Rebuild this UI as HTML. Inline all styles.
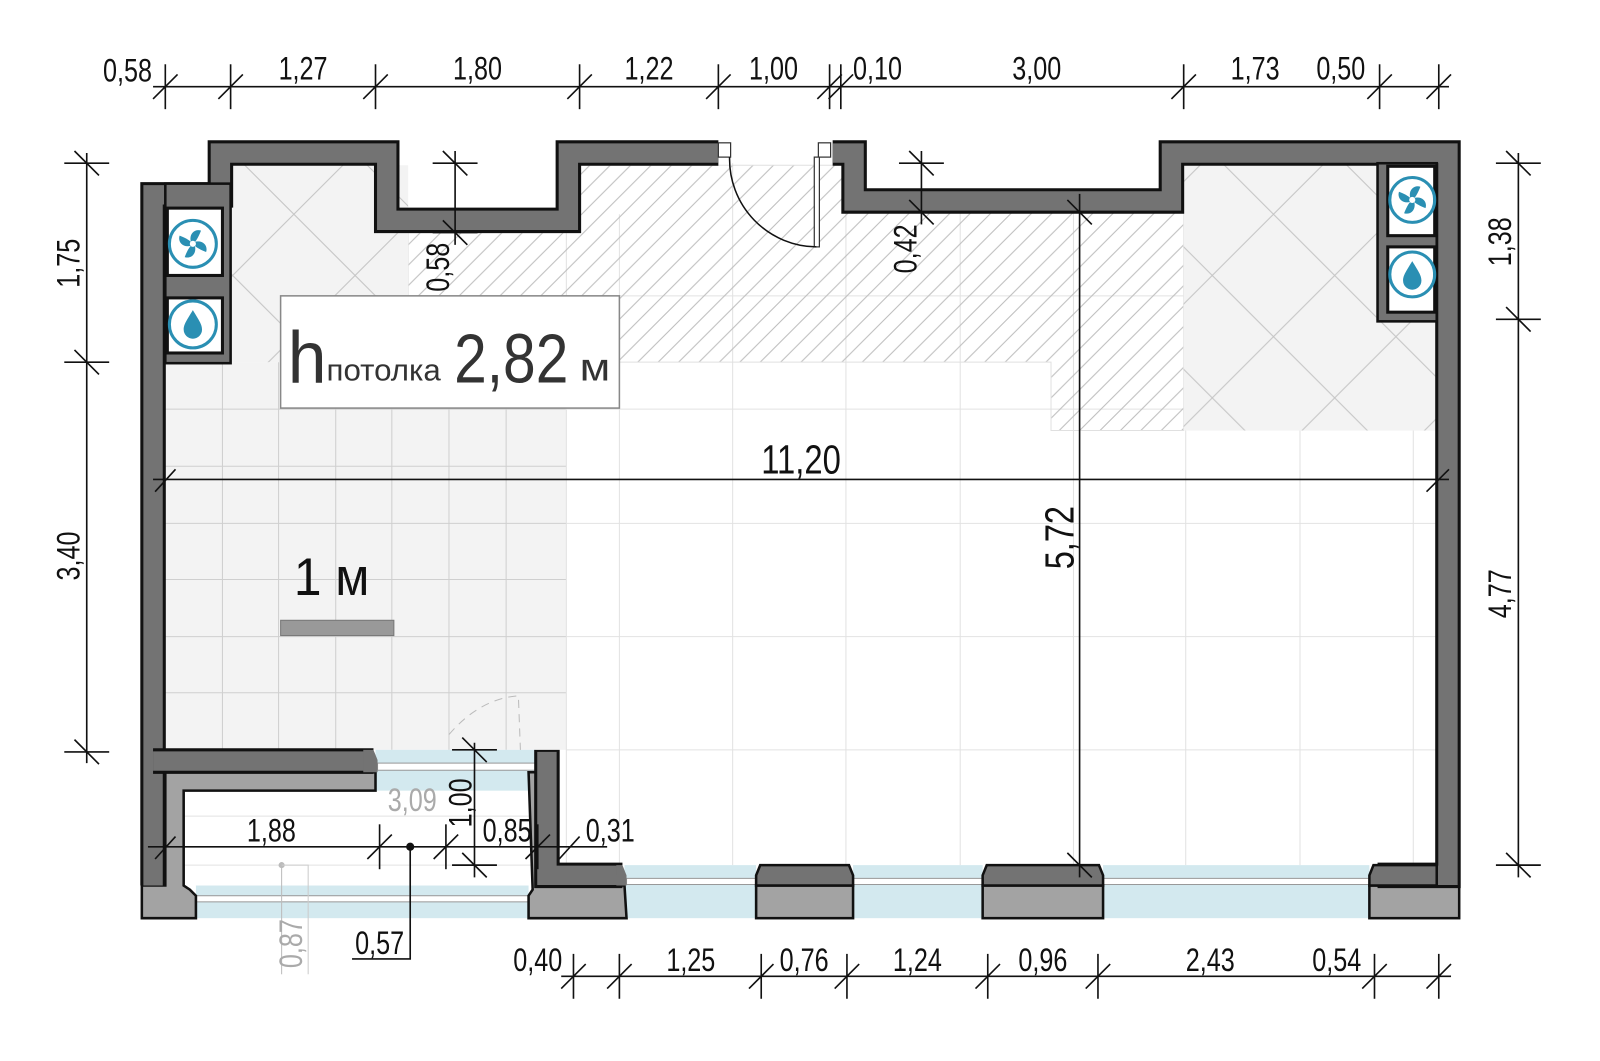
<!DOCTYPE html>
<html><head><meta charset="utf-8"><style>
html,body{margin:0;padding:0;background:#fff;width:1600px;height:1061px;overflow:hidden}
svg{display:block}
text{font-family:"Liberation Sans",sans-serif}
.d{font-size:32px;fill:#111}
</style></head><body>
<svg width="1600" height="1061" viewBox="0 0 1568 1040" preserveAspectRatio="none" xmlns="http://www.w3.org/2000/svg">
<defs>
<pattern id="hatch" width="20" height="20" patternUnits="userSpaceOnUse">
<path d="M-5,5 L5,-5 M0,20 L20,0 M15,25 L25,15" stroke="#bdbdbd" stroke-width="1"/>
</pattern>
<pattern id="cross" width="120" height="120" patternUnits="userSpaceOnUse" x="228" y="150">
<rect width="120" height="120" fill="#f3f3f3"/>
<path d="M0,0 L120,120 M120,0 L0,120 M-60,60 L60,-60 M60,180 L180,60 M-60,60 L60,180 M60,-60 L180,60" stroke="#c4c4c4" stroke-width="1" fill="none"/>
</pattern>
<g id="tkh"><line x1="0" y1="-22" x2="0" y2="22" stroke="#111" stroke-width="1.6"/><line x1="-12" y1="12" x2="12" y2="-12" stroke="#111" stroke-width="1.6"/></g>
<g id="tkv"><line x1="-22" y1="0" x2="22" y2="0" stroke="#111" stroke-width="1.6"/><line x1="-12" y1="-12" x2="12" y2="12" stroke="#111" stroke-width="1.6"/></g>
</defs>

<!-- floor -->
<rect x="150" y="150" width="1270" height="710" fill="#fff"/>
<rect x="162" y="355" width="393" height="380" fill="#f3f3f3"/>
<rect x="162" y="757" width="360" height="111" fill="#fff"/>
<!-- left area grid -->
<g stroke="#cfcfcf" stroke-width="1">
<line x1="218" y1="355" x2="218" y2="735"/><line x1="273" y1="355" x2="273" y2="735"/><line x1="329" y1="355" x2="329" y2="735"/><line x1="384" y1="355" x2="384" y2="735"/><line x1="440" y1="355" x2="440" y2="735"/><line x1="496" y1="355" x2="496" y2="735"/>
<line x1="162" y1="401" x2="555" y2="401"/><line x1="162" y1="457" x2="555" y2="457"/><line x1="162" y1="513" x2="555" y2="513"/><line x1="162" y1="568" x2="555" y2="568"/><line x1="162" y1="624" x2="555" y2="624"/><line x1="162" y1="679" x2="555" y2="679"/>
</g>
<!-- main grid -->
<g stroke="#e2e2e2" stroke-width="1">
<line x1="555" y1="160" x2="555" y2="848"/><line x1="607" y1="210" x2="607" y2="848"/><line x1="718" y1="160" x2="718" y2="848"/><line x1="829" y1="208" x2="829" y2="848"/><line x1="941" y1="208" x2="941" y2="848"/><line x1="1052" y1="208" x2="1052" y2="848"/><line x1="1162" y1="160" x2="1162" y2="848"/><line x1="1274" y1="160" x2="1274" y2="848"/><line x1="1385" y1="315" x2="1385" y2="848"/>
<line x1="400" y1="290" x2="1408" y2="290"/><line x1="555" y1="401" x2="1408" y2="401"/><line x1="555" y1="513" x2="1408" y2="513"/><line x1="555" y1="624" x2="1408" y2="624"/><line x1="555" y1="735" x2="1408" y2="735"/>
<line x1="180" y1="800" x2="520" y2="800"/><line x1="180" y1="848" x2="520" y2="848"/>
</g>
<!-- hatch -->
<path d="M400,228 L568,228 L568,162 L826,162 L826,208 L1160,208 L1160,422 L1030,422 L1030,355 L400,355 Z" fill="url(#hatch)"/>
<path d="M400,228 L568,228 L568,162 L826,162 L826,208 L1160,208 L1160,422 L1030,422 L1030,355 L400,355 Z" fill="none" stroke="#e0e0e0" stroke-width="1"/>
<rect x="226" y="162" width="174" height="193" fill="url(#cross)"/>
<rect x="1160" y="162" width="248" height="260" fill="url(#cross)"/>

<!-- windows -->
<g fill="#d3e9ef">
<rect x="368" y="735" width="157" height="40"/>
<rect x="192" y="868" width="326" height="32"/>
<rect x="612" y="848" width="129" height="52"/>
<rect x="836" y="848" width="127" height="52"/>
<rect x="1081" y="848" width="261" height="52"/>
</g>
<g fill="#fff" stroke="#999" stroke-width="1">
<rect x="370" y="748" width="155" height="7"/>
<rect x="192" y="878" width="326" height="6"/>
<rect x="614" y="861" width="127" height="6"/>
<rect x="836" y="861" width="127" height="6"/>
<rect x="1081" y="861" width="261" height="6"/>
</g>

<!-- light gray wall parts -->
<g fill="#a3a3a3" stroke="#111" stroke-width="2.5">
<path d="M162,757 L368,757 L368,775 L180,775 L180,868 L186,872 L192,878 L192,900 L139,900 L139,868 L162,868 Z"/>
<path d="M518,757 L525,757 L525,868 L612,868 L614,900 L518,900 L518,878 L522,872 Z"/>
<rect x="741" y="868" width="95" height="32"/>
<rect x="963" y="868" width="118" height="32"/>
<rect x="1342" y="868" width="88" height="32"/>
</g>

<!-- dark walls -->
<g fill="none" stroke-linejoin="miter" stroke-linecap="butt">
<polyline points="150,868 150,191 216,191 216,150 379,150 379,216 557,216 557,150 704,150" stroke="#111" stroke-width="25"/>
<polyline points="150,868 150,191 216,191 216,150 379,150 379,216 557,216 557,150 704,150" stroke="#737373" stroke-width="19"/>
<polyline points="816,150 837,150 837,197 1148,197 1148,150 1419,150 1419,858 1350,858" stroke="#111" stroke-width="25"/>
<polyline points="816,150 837,150 837,197 1148,197 1148,150 1419,150 1419,858 1350,858" stroke="#737373" stroke-width="19"/>
<polyline points="150,746 366,746" stroke="#111" stroke-width="25"/>
<polyline points="150,746 364,746" stroke="#737373" stroke-width="19"/>
<polyline points="536,735 536,858 610,858" stroke="#111" stroke-width="25"/>
<polyline points="536,737 536,858 608,858" stroke="#737373" stroke-width="19"/>
</g>
<g fill="#737373" stroke="#111" stroke-width="2.5">
<path d="M356,735 L366,735 L370,745 L370,757 L356,757 Z" stroke="none"/>
<path d="M741,868 L741,858 L745,848 L832,848 L836,858 L836,868 Z"/>
<path d="M963,868 L963,858 L967,848 L1077,848 L1081,858 L1081,868 Z"/>
<path d="M1342,868 L1342,858 L1346,848 L1408,848 L1408,868 Z"/>
<path d="M604,848 L610,848 L614,858 L614,868 L604,868 Z" stroke="none"/>
<rect x="162" y="180" width="64" height="176"/>
<rect x="1350" y="160" width="58" height="155"/>
</g>
<!-- door jambs & door -->
<g fill="#fff" stroke="#333" stroke-width="1.2">
<rect x="704" y="140" width="12" height="14"/>
<rect x="802" y="140" width="12" height="14"/>
<rect x="798" y="154" width="5" height="88"/>
</g>
<path d="M715,154 A86,86 0 0 0 800,242" fill="none" stroke="#111" stroke-width="1.5"/>

<!-- service boxes -->
<g fill="#fff" stroke="#111" stroke-width="3">
<rect x="164" y="204" width="54" height="66"/>
<rect x="164" y="292" width="54" height="54"/>
<rect x="1360" y="163" width="46" height="68"/>
<rect x="1360" y="242" width="46" height="64"/>
</g>
<g fill="none" stroke="#2a8fb3" stroke-width="3">
<circle cx="189" cy="239" r="23"/><circle cx="189" cy="318" r="23"/>
<circle cx="1384" cy="196" r="22"/><circle cx="1384" cy="269" r="22"/>
</g>
<g fill="#2a8fb3">
<g transform="translate(189,239)"><path d="M-2,-2 C-4,-10 2,-15 8,-13 C6,-8 4,-4 2,-2 Z M2,-2 C10,-4 15,2 13,8 C8,6 4,4 2,2 Z M2,2 C4,10 -2,15 -8,13 C-6,8 -4,4 -2,2 Z M-2,2 C-10,4 -15,-2 -13,-8 C-8,-6 -4,-4 -2,-2 Z"/><circle r="3" fill="#fff"/></g>
<g transform="translate(1384,196)"><path d="M-2,-2 C-4,-10 2,-15 8,-13 C6,-8 4,-4 2,-2 Z M2,-2 C10,-4 15,2 13,8 C8,6 4,4 2,2 Z M2,2 C4,10 -2,15 -8,13 C-6,8 -4,4 -2,2 Z M-2,2 C-10,4 -15,-2 -13,-8 C-8,-6 -4,-4 -2,-2 Z"/><circle r="3" fill="#fff"/></g>
<path d="M189,304 C183,314 180,318 180,323 A9,9 0 0 0 198,323 C198,318 195,314 189,304 Z"/>
<path d="M1384,256 C1378,266 1375,270 1375,275 A9,9 0 0 0 1393,275 C1393,270 1390,266 1384,256 Z"/>
</g>

<!-- ceiling height label -->
<rect x="275" y="290" width="332" height="110" fill="#fff" stroke="#888" stroke-width="1.5"/>
<text x="282" y="375" font-size="72" fill="#333" textLength="38" lengthAdjust="spacingAndGlyphs">h</text>
<text x="320" y="373" font-size="30" fill="#333" textLength="112" lengthAdjust="spacingAndGlyphs">потолка</text>
<text x="445" y="375" font-size="68" fill="#333" textLength="112" lengthAdjust="spacingAndGlyphs">2,82</text>
<text x="568" y="373" font-size="38" fill="#333" textLength="30" lengthAdjust="spacingAndGlyphs">м</text>
<text x="288" y="583" font-size="52" fill="#111" textLength="74" lengthAdjust="spacingAndGlyphs">1 м</text>
<rect x="275" y="608" width="111" height="15" fill="#999" stroke="#777" stroke-width="1"/>

<!-- top dims -->
<line x1="150" y1="85" x2="1420" y2="85" stroke="#111" stroke-width="1.6"/>
<use href="#tkh" x="162" y="85"/><use href="#tkh" x="226" y="85"/><use href="#tkh" x="368" y="85"/><use href="#tkh" x="568" y="85"/><use href="#tkh" x="704" y="85"/><use href="#tkh" x="813" y="85"/><use href="#tkh" x="824" y="85"/><use href="#tkh" x="1160" y="85"/><use href="#tkh" x="1352" y="85"/><use href="#tkh" x="1410" y="85"/>
<g class="d" text-anchor="middle">
<text x="125" y="80" textLength="48" lengthAdjust="spacingAndGlyphs">0,58</text>
<text x="297" y="78" textLength="48" lengthAdjust="spacingAndGlyphs">1,27</text>
<text x="468" y="78" textLength="48" lengthAdjust="spacingAndGlyphs">1,80</text>
<text x="636" y="78" textLength="48" lengthAdjust="spacingAndGlyphs">1,22</text>
<text x="758" y="78" textLength="48" lengthAdjust="spacingAndGlyphs">1,00</text>
<text x="860" y="78" textLength="48" lengthAdjust="spacingAndGlyphs">0,10</text>
<text x="1016" y="78" textLength="48" lengthAdjust="spacingAndGlyphs">3,00</text>
<text x="1230" y="78" textLength="48" lengthAdjust="spacingAndGlyphs">1,73</text>
<text x="1314" y="78" textLength="48" lengthAdjust="spacingAndGlyphs">0,50</text>
</g>

<!-- bottom dims -->
<line x1="550" y1="957" x2="1422" y2="957" stroke="#111" stroke-width="1.6"/>
<use href="#tkh" x="562" y="957"/><use href="#tkh" x="607" y="957"/><use href="#tkh" x="746" y="957"/><use href="#tkh" x="830" y="957"/><use href="#tkh" x="968" y="957"/><use href="#tkh" x="1076" y="957"/><use href="#tkh" x="1347" y="957"/><use href="#tkh" x="1410" y="957"/>
<g class="d" text-anchor="middle">
<text x="527" y="952" textLength="48" lengthAdjust="spacingAndGlyphs">0,40</text>
<text x="677" y="952" textLength="48" lengthAdjust="spacingAndGlyphs">1,25</text>
<text x="788" y="952" textLength="48" lengthAdjust="spacingAndGlyphs">0,76</text>
<text x="899" y="952" textLength="48" lengthAdjust="spacingAndGlyphs">1,24</text>
<text x="1022" y="952" textLength="48" lengthAdjust="spacingAndGlyphs">0,96</text>
<text x="1186" y="952" textLength="48" lengthAdjust="spacingAndGlyphs">2,43</text>
<text x="1310" y="952" textLength="48" lengthAdjust="spacingAndGlyphs">0,54</text>
</g>

<!-- left dims -->
<line x1="85" y1="150" x2="85" y2="748" stroke="#111" stroke-width="1.6"/>
<use href="#tkv" x="85" y="160"/><use href="#tkv" x="85" y="355"/><use href="#tkv" x="85" y="737"/>
<text class="d" text-anchor="middle" transform="translate(78,258) rotate(-90)" textLength="48" lengthAdjust="spacingAndGlyphs">1,75</text>
<text class="d" text-anchor="middle" transform="translate(78,545) rotate(-90)" textLength="48" lengthAdjust="spacingAndGlyphs">3,40</text>

<!-- right dims -->
<line x1="1488" y1="150" x2="1488" y2="860" stroke="#111" stroke-width="1.6"/>
<use href="#tkv" x="1488" y="160"/><use href="#tkv" x="1488" y="313"/><use href="#tkv" x="1488" y="848"/>
<text class="d" text-anchor="middle" transform="translate(1481,237) rotate(-90)" textLength="48" lengthAdjust="spacingAndGlyphs">1,38</text>
<text class="d" text-anchor="middle" transform="translate(1481,582) rotate(-90)" textLength="48" lengthAdjust="spacingAndGlyphs">4,77</text>

<!-- inner dims -->
<line x1="150" y1="470" x2="1420" y2="470" stroke="#111" stroke-width="1.6"/>
<line x1="152" y1="482" x2="172" y2="460" stroke="#111" stroke-width="1.6"/>
<line x1="1398" y1="482" x2="1420" y2="460" stroke="#111" stroke-width="1.6"/>
<text x="785" y="464" font-size="40" fill="#111" text-anchor="middle" textLength="78" lengthAdjust="spacingAndGlyphs">11,20</text>
<line x1="1058" y1="190" x2="1058" y2="860" stroke="#111" stroke-width="1.6"/>
<line x1="1046" y1="196" x2="1070" y2="220" stroke="#111" stroke-width="1.6"/>
<line x1="1046" y1="836" x2="1070" y2="860" stroke="#111" stroke-width="1.6"/>
<text transform="translate(1052,527) rotate(-90)" font-size="40" fill="#111" text-anchor="middle" textLength="62" lengthAdjust="spacingAndGlyphs">5,72</text>

<line x1="446" y1="148" x2="446" y2="240" stroke="#111" stroke-width="1.6"/>
<use href="#tkv" x="446" y="160"/><use href="#tkv" x="446" y="228"/>
<text class="d" text-anchor="middle" transform="translate(440,262) rotate(-90)" textLength="48" lengthAdjust="spacingAndGlyphs">0,58</text>
<line x1="903" y1="148" x2="903" y2="220" stroke="#111" stroke-width="1.6"/>
<use href="#tkv" x="903" y="160"/><use href="#tkv" x="903" y="208"/>
<text class="d" text-anchor="middle" transform="translate(898,244) rotate(-90)" textLength="48" lengthAdjust="spacingAndGlyphs">0,42</text>

<!-- vestibule dims -->
<line x1="145" y1="830" x2="595" y2="830" stroke="#111" stroke-width="1.6"/>
<line x1="152" y1="842" x2="172" y2="820" stroke="#111" stroke-width="1.6"/>
<use href="#tkh" x="372" y="830"/><use href="#tkh" x="437" y="830"/><use href="#tkh" x="527" y="830"/>
<line x1="548" y1="842" x2="568" y2="820" stroke="#111" stroke-width="1.6"/>
<circle cx="402" cy="830" r="4" fill="#111"/>
<polyline points="402,830 402,940 345,940" fill="none" stroke="#111" stroke-width="1.6"/>
<g class="d" text-anchor="middle">
<text x="266" y="825" textLength="48" lengthAdjust="spacingAndGlyphs">1,88</text>
<text x="497" y="825" textLength="48" lengthAdjust="spacingAndGlyphs">0,85</text>
<text x="598" y="825" textLength="48" lengthAdjust="spacingAndGlyphs">0,31</text>
<text x="372" y="935" textLength="48" lengthAdjust="spacingAndGlyphs">0,57</text>
</g>
<text x="404" y="795" font-size="32" fill="#aaa" text-anchor="middle" textLength="48" lengthAdjust="spacingAndGlyphs">3,09</text>
<line x1="465" y1="728" x2="465" y2="860" stroke="#111" stroke-width="1.6"/>
<use href="#tkv" x="465" y="735"/><use href="#tkv" x="465" y="848"/>
<text class="d" text-anchor="middle" transform="translate(462,787) rotate(-90)" textLength="48" lengthAdjust="spacingAndGlyphs">1,00</text>
<line x1="276" y1="848" x2="276" y2="955" stroke="#bbb" stroke-width="1"/>
<circle cx="276" cy="848" r="3" fill="#bbb"/>
<polyline points="276,848 302,848 302,955" fill="none" stroke="#ccc" stroke-width="1"/>
<text transform="translate(296,925) rotate(-90)" font-size="32" fill="#aaa" text-anchor="middle" textLength="48" lengthAdjust="spacingAndGlyphs">0,87</text>
<path d="M440,720 Q470,685 508,682 L510,735" fill="none" stroke="#bbb" stroke-width="1" stroke-dasharray="8,6"/>
</svg>
</body></html>
